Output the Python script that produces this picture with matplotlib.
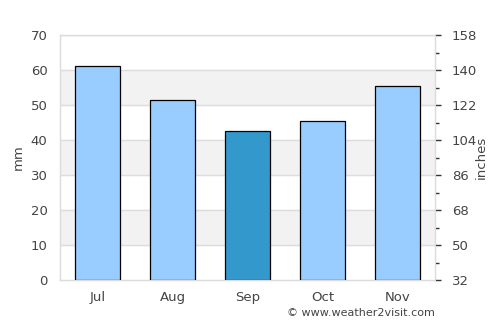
import matplotlib.pyplot as plt
import numpy as np
from matplotlib.ticker import FixedLocator

plt.rcParams["font.family"] = "DejaVu Sans"

months = ['Jul', 'Aug', 'Sep', 'Oct', 'Nov']
rain_mm = [61.1, 51.4, 42.5, 45.4, 55.4]
bar_colors = ['#99ccff', '#99ccff', '#3399cc', '#99ccff', '#99ccff']
right_ticks = [32, 50, 68, 86, 104, 122, 140, 158]

text_col = '#444444'
grid_col = '#dddddd'

fig = plt.figure(figsize=(5, 3.25), dpi=100)
ax = fig.add_axes([0.12, 0.138, 0.75, 0.754])

x = np.arange(len(months))

# alternating bands
for lo in (10, 30, 50):
    ax.axhspan(lo, lo + 10, color='#f2f2f2', zorder=0)
for y in range(10, 71, 10):
    ax.axhline(y, color=grid_col, lw=1, zorder=1)

ax.bar(x, rain_mm, width=0.6, color=bar_colors, edgecolor='black', linewidth=0.9, zorder=3)

ax.set_xlim(-0.5, 4.5)
ax.set_ylim(0, 70)
ax.set_yticks(range(0, 71, 10))
ax.set_xticks(x)
ax.set_xticklabels(months)
ax.tick_params(axis='both', length=0, labelsize=9.5, colors=text_col, pad=8)
ax.tick_params(axis='y', pad=9)
ax.set_ylabel('mm', color=text_col, fontsize=9.5, labelpad=4)

for s in ['left', 'bottom', 'top', 'right']:
    ax.spines[s].set_color(grid_col)
    ax.spines[s].set_linewidth(1)

ax2 = ax.twinx()
ax2.set_ylim(32, 32 + 1.8 * 70)
ax2.set_yticks(right_ticks)
ax2.yaxis.set_minor_locator(FixedLocator([t + 9 for t in right_ticks[:-1]]))
ax2.tick_params(axis='y', which='major', length=4, width=1, colors='#333333',
                labelcolor=text_col, labelsize=9.5, pad=8)
ax2.tick_params(axis='y', which='minor', length=3, width=1, colors='#333333')
ax2.set_ylabel('inches', color=text_col, fontsize=9.5, labelpad=-2)
for s in ['left', 'bottom', 'top', 'right']:
    ax2.spines[s].set_color(grid_col)

fig.text(0.87, 0.022, '\u00a9 www.weather2visit.com', ha='right', va='bottom',
         fontsize=8, color=text_col)

fig.savefig('out.png', dpi=100)
